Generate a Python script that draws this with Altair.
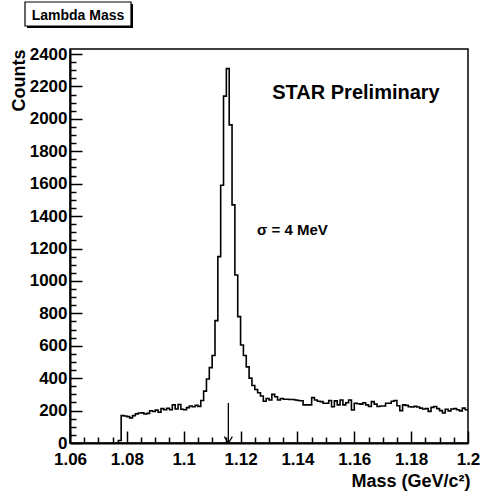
import altair as alt
import pandas as pd

# ---- data ----
BIN_START = 1.077   # GeV, left edge of the first filled bin
BIN_WIDTH = 0.001   # GeV
END_X = 1.2
counts = [
    15, 169, 167, 163, 155, 169, 180, 185, 186, 179,      # 1.077-1.086
    183, 199, 194, 203, 190, 212, 205, 214, 205, 236,     # 1.087-1.096
    210, 238, 208, 205, 218, 228, 224, 232, 226, 262,     # 1.097-1.106
    320, 395, 465, 540, 755, 1150, 1590, 2140, 2310, 1963,  # 1.107-1.116
    1469, 1037, 780, 605, 540, 470, 400, 355, 330, 310,   # 1.117-1.126
    290, 258, 275, 265, 300, 285, 265, 275, 270, 270,     # 1.127-1.136
    268, 268, 265, 262, 261, 235, 235, 235, 280, 265,     # 1.137-1.146
    258, 255, 245, 245, 262, 224, 260, 235, 265, 235,     # 1.147-1.156
    248, 265, 204, 245, 242, 240, 248, 235, 225, 255,     # 1.157-1.166
    240, 225, 228, 228, 245, 245, 258, 262, 230, 200,     # 1.167-1.176
    235, 232, 224, 222, 226, 222, 215, 210, 212, 195,     # 1.177-1.186
    220, 225, 212, 200, 185, 208, 198, 210, 212, 205,     # 1.187-1.196
    198, 215, 205,                                        # 1.197-1.199
]

x_major = [1.06, 1.08, 1.10, 1.12, 1.14, 1.16, 1.18, 1.20]
x_minor = [1.065, 1.07, 1.075, 1.085, 1.09, 1.095, 1.105, 1.11, 1.115,
           1.125, 1.13, 1.135, 1.145, 1.15, 1.155, 1.165, 1.17, 1.175,
           1.185, 1.19, 1.195]
y_major = [0, 200, 400, 600, 800, 1000, 1200, 1400, 1600, 1800, 2000, 2200, 2400]
y_minor = [50, 100, 150, 250, 300, 350, 450, 500, 550, 650, 700, 750, 850, 900, 950,
           1050, 1100, 1150, 1250, 1300, 1350, 1450, 1500, 1550, 1650, 1700, 1750,
           1850, 1900, 1950, 2050, 2100, 2150, 2250, 2300, 2350]

lambda_mass = 1.1157
arrow_top = 247

title_text = "Lambda Mass"
star_text = ["STAR Preliminary"]
star_pos = [1.1606, 2123]
sigma_text = ["σ = 4 MeV"]
sigma_pos = [1.1258, 1284]

x_title = "Mass (GeV/c²)"
y_title = "Counts"

# ---- tables ----
rows = [{"m": BIN_START, "c": 0, "o": 0}]
for i, c in enumerate(counts):
    rows.append({"m": round(BIN_START + i * BIN_WIDTH, 4), "c": c, "o": i + 1})
rows.append({"m": END_X, "c": counts[-1], "o": len(counts) + 1})
hist = pd.DataFrame(rows)

FONT = "Liberation Sans"
W, H = 398, 394
xs = alt.Scale(domain=[1.06, 1.2], nice=False, zero=False)
ys = alt.Scale(domain=[0, 2431], nice=False, zero=True)

x_label_axis = alt.Axis(
    orient="bottom", values=x_major, format="~g", ticks=False, grid=False,
    domain=True, domainColor="black", domainWidth=2,
    labelFont=FONT, labelFontWeight="bold", labelFontSize=17, labelColor="black",
    labelPadding=8, labelFlush=False, labelOverlap=False,
    title=x_title, titleFont=FONT, titleFontWeight="bold", titleFontSize=18,
    titleColor="black", titleAlign="right", titleX=W + 2, titleY=43,
    titleBaseline="alphabetic",
)
y_label_axis = alt.Axis(
    orient="left", values=y_major, format="d", ticks=False, grid=False,
    domain=True, domainColor="black", domainWidth=2,
    labelFont=FONT, labelFontWeight="bold", labelFontSize=17, labelColor="black",
    labelPadding=3, labelFlush=False, labelOverlap=False,
    title=y_title, titleFont=FONT, titleFontWeight="bold", titleFontSize=18,
    titleColor="black", titleAngle=-90, titleAlign="right", titleX=-46, titleY=0,
    titleBaseline="alphabetic",
)

def tick_axis_x(vals, size):
    return alt.Axis(orient="top", offset=-H, values=vals, tickSize=size,
                    tickColor="black", tickWidth=1.5, labels=False, domain=False,
                    grid=False, title=None)

def tick_axis_y(vals, size):
    return alt.Axis(orient="right", offset=-W, values=vals, tickSize=size,
                    tickColor="black", tickWidth=1.5, labels=False, domain=False,
                    grid=False, title=None)

hist_layer = alt.Chart(hist).mark_line(
    interpolate="step-after", color="black", strokeWidth=1.6
).encode(
    x=alt.X("m:Q", scale=xs, axis=x_label_axis),
    y=alt.Y("c:Q", scale=ys, axis=y_label_axis),
    order="o:Q",
)

def tick_layer(xaxis, yaxis):
    return alt.Chart(hist).mark_line(opacity=0).encode(
        x=alt.X("m:Q", scale=xs, axis=xaxis),
        y=alt.Y("c:Q", scale=ys, axis=yaxis),
        order="o:Q",
    )

ticks_major = tick_layer(tick_axis_x(x_major, 12), tick_axis_y(y_major, 12))
ticks_minor = tick_layer(tick_axis_x(x_minor, 6), tick_axis_y(y_minor, 6))

arrow_df = pd.DataFrame({"m": [lambda_mass], "top": [arrow_top], "bot": [0]})
arrow_line = alt.Chart(arrow_df).mark_rule(color="black", strokeWidth=1.3).encode(
    x=alt.X("m:Q", scale=xs, axis=None),
    y=alt.Y("top:Q", scale=ys, axis=None),
    y2="bot:Q",
)
arrow_head = alt.Chart(arrow_df).mark_point(
    shape="M -1 -1.6 L 0 0 L 1 -1.6", filled=False, color="black",
    strokeWidth=1.3, size=64, opacity=1,
).encode(
    x=alt.X("m:Q", scale=xs, axis=None),
    y=alt.Y("bot:Q", scale=ys, axis=None),
)

star_df = pd.DataFrame({"m": [star_pos[0]], "c": [star_pos[1]], "t": star_text})
star_layer = alt.Chart(star_df).mark_text(
    font=FONT, fontWeight="bold", fontSize=20, color="black",
    align="center", baseline="alphabetic",
).encode(
    x=alt.X("m:Q", scale=xs, axis=None),
    y=alt.Y("c:Q", scale=ys, axis=None),
    text="t:N",
)

sigma_df = pd.DataFrame({"m": [sigma_pos[0]], "c": [sigma_pos[1]], "t": sigma_text})
sigma_layer = alt.Chart(sigma_df).mark_text(
    font=FONT, fontWeight="bold", fontSize=15, color="black",
    align="left", baseline="alphabetic",
).encode(
    x=alt.X("m:Q", scale=xs, axis=None),
    y=alt.Y("c:Q", scale=ys, axis=None),
    text="t:N",
)

title_df = pd.DataFrame({"t": [title_text]})
title_shadow = alt.Chart(title_df).mark_rect(color="black").encode(
    x=alt.value(-43), x2=alt.value(63), y=alt.value(-45), y2=alt.value(-21),
)
title_box = alt.Chart(title_df).mark_rect(
    fill="white", stroke="black", strokeWidth=1.2
).encode(
    x=alt.value(-45), x2=alt.value(61), y=alt.value(-47), y2=alt.value(-23),
)
title_txt = alt.Chart(title_df).mark_text(
    font=FONT, fontWeight="bold", fontSize=14, color="black",
    align="center", baseline="alphabetic",
).encode(
    x=alt.value(8), y=alt.value(-29), text="t:N",
)

chart = alt.layer(
    hist_layer, ticks_major, ticks_minor, arrow_line, arrow_head,
    star_layer, sigma_layer, title_shadow, title_box, title_txt,
).resolve_axis(
    x="independent", y="independent"
).properties(
    width=W, height=H,
    autosize=alt.AutoSizeParams(type="none"),
    padding={"left": 70, "top": 49, "right": 13, "bottom": 54},
    background="white",
).configure_view(
    stroke="black", strokeWidth=1.5
)

chart.save("out.html", embed_options={"renderer": "svg", "actions": False})
